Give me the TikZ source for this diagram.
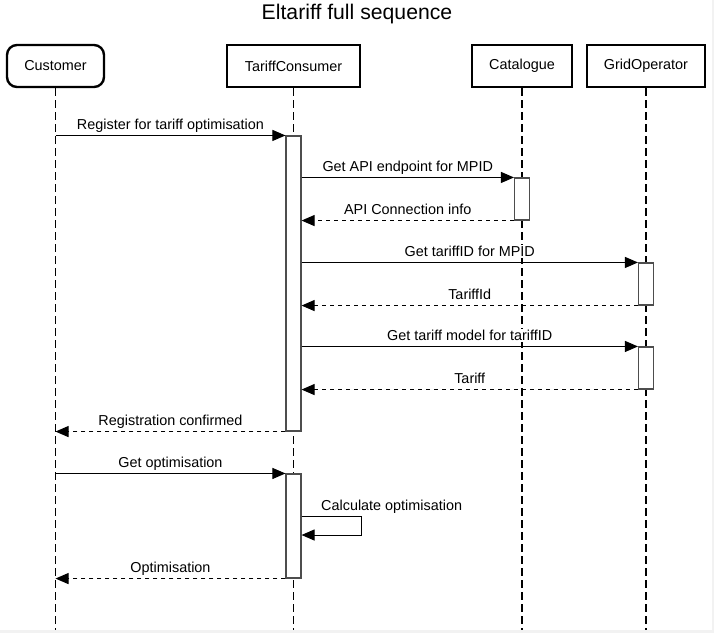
\documentclass[tikz,border=0pt]{standalone}
\usepackage{fontspec}
\setmainfont{Liberation Sans}
\usetikzlibrary{arrows.meta}
\pgfdeclarelayer{background}
\pgfsetlayers{background,main}
\definecolor{edgegray}{HTML}{4D4D4D}
\definecolor{stripgray}{HTML}{F2F2F2}
\tikzset{
  header/.style={draw=black, line width=2.4pt, fill=white, minimum height=42pt, inner sep=0pt, font=\fontsize{14.4}{17}\selectfont},
  lifeline/.style={draw=black, line width=1.2pt, dash pattern=on 8pt off 4pt},
  act/.style={draw=edgegray, line width=1.1pt, fill=white, minimum width=15pt, inner sep=0pt},
  msg/.style={draw=black, line width=1pt, -{Triangle[length=13pt,width=11pt]}},
  ret/.style={msg, dash pattern=on 4pt off 4pt},
  lbl/.style={font=\fontsize{14.4}{17}\selectfont, inner xsep=1pt, inner ysep=1.5pt, text=black},
  mlbl/.style={lbl, fill=white, anchor=base, yshift=6pt},
}
\begin{document}
\begin{tikzpicture}[x=1pt,y=-1pt]
\useasboundingbox (0,0) rectangle (714,633);
\begin{pgfonlayer}{background}
\fill[white] (0,0) rectangle (714,633);
\fill[stripgray] (0,630) rectangle (714,633);
\fill[stripgray] (712,0) rectangle (714,633);
\end{pgfonlayer}

\node[lbl, font=\fontsize{21.2}{25}\selectfont] (title) at (357,14) {Eltariff full sequence};

% headers
\node[header, rounded corners=10pt, minimum width=97pt] (cust) at (55.5,66) {Customer};
\node[header, minimum width=133pt] (tc) at (293.5,66) {TariffConsumer};
\node[header, minimum width=100pt] (cat) at (522,66) {Catalogue};
\node[header, minimum width=118pt] (grid) at (646,66) {GridOperator};

% lifeline ends
\coordinate (custEnd) at (55.5,630);
\coordinate (tcEnd) at (293.5,630);
\coordinate (catEnd) at (522,630);
\coordinate (gridEnd) at (646,630);

\begin{pgfonlayer}{background}
\draw[lifeline] (cust.south) -- (custEnd);
\draw[lifeline] (tc.south) -- (tcEnd);
\draw[lifeline] (cat.south) -- (catEnd);
\draw[lifeline] (grid.south) -- (gridEnd);
\end{pgfonlayer}

% activations
\node[act, minimum height=295pt] (a1) at (293.5,283.5) {};
\node[act, minimum height=42pt] (c1) at (522,199) {};
\node[act, minimum height=42pt] (g1) at (646,284) {};
\node[act, minimum height=42pt] (g2) at (646,368) {};
\node[act, minimum height=104pt] (a2) at (293.5,526) {};

% messages
\draw[msg] (cust.center |- a1.north west) -- node[mlbl] (m1) {Register for tariff optimisation} (a1.north west);
\draw[msg] (a1.east |- c1.north west) -- node[mlbl] (m2) {Get API endpoint for MPID} (c1.north west);
\draw[ret] (c1.south west) -- node[mlbl] (m3) {API Connection info} (a1.east |- c1.south west);
\draw[msg] (a1.east |- g1.north west) -- node[mlbl] (m4) {Get tariffID for MPID} (g1.north west);
\draw[ret] (g1.south west) -- node[mlbl] (m5) {TariffId} (a1.east |- g1.south west);
\draw[msg] (a1.east |- g2.north west) -- node[mlbl] (m6) {Get tariff model for tariffID} (g2.north west);
\draw[ret] (g2.south west) -- node[mlbl] (m7) {Tariff} (a1.east |- g2.south west);
\draw[ret] (a1.south west) -- node[mlbl] (m8) {Registration confirmed} (cust.center |- a1.south west);
\draw[msg] (cust.center |- a2.north west) -- node[mlbl] (m9) {Get optimisation} (a2.north west);

% self call
\coordinate (s1) at (a2.east |- 0,516);
\coordinate (s2) at (361,516);
\coordinate (s3) at (361,535);
\coordinate (s4) at (a2.east |- 0,535);
\draw[msg] (s1) -- (s2) -- (s3) -- (s4);
\node[lbl, anchor=base west, inner xsep=0pt] (m10) at (321,510) {Calculate optimisation};

\draw[ret] (a2.south west) -- node[mlbl] (m11) {Optimisation} (cust.center |- a2.south west);
\end{tikzpicture}
\end{document}
